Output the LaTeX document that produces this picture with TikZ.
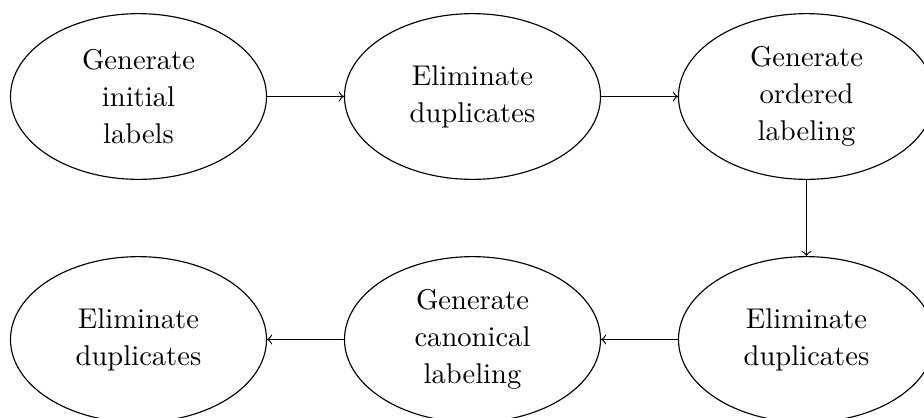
\documentclass[tikz,border=0pt]{standalone}
\usetikzlibrary{shapes.geometric}
\begin{document}
\begin{tikzpicture}[x=0.35pt, y=-0.35pt,
    stage/.style={draw, ellipse, minimum width=89.6pt, minimum height=58pt,
      inner sep=1pt, align=center, font=\fontsize{10}{13}\selectfont},
    flow/.style={->}]
  \useasboundingbox (0,0) rectangle (924,417);
  % top row, left to right
  \node[stage] (gen1) at (138.5,96.5) {Generate\\initial\\labels};
  \node[stage] (elim1) at (472.5,96.5) {Eliminate\\duplicates};
  \node[stage] (gen2) at (806.5,96.5) {Generate\\ordered\\labeling};
  % bottom row, right to left
  \node[stage] (elim2) at (806.5,339.5) {Eliminate\\duplicates};
  \node[stage] (gen3) at (472.5,339.5) {Generate\\canonical\\labeling};
  \node[stage] (elim3) at (138.5,339.5) {Eliminate\\duplicates};
  \draw[flow] (gen1) -- (elim1);
  \draw[flow] (elim1) -- (gen2);
  \draw[flow] (gen2) -- (elim2);
  \draw[flow] (elim2) -- (gen3);
  \draw[flow] (gen3) -- (elim3);
\end{tikzpicture}
\end{document}
